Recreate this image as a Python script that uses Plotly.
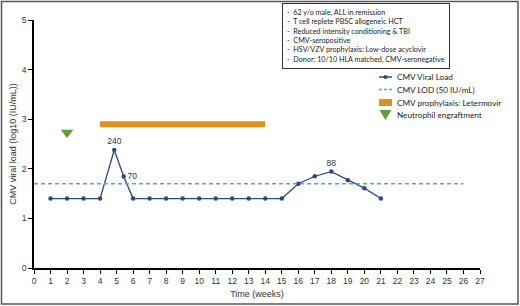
import plotly.graph_objects as go

# Data
weeks = [1, 2, 3, 4, 4.86, 5.43, 6, 7, 8, 9, 10, 11, 12, 13, 14, 15, 16, 17, 18, 19, 20, 21]
viral_load = [1.4, 1.4, 1.4, 1.4, 2.38, 1.845, 1.4, 1.4, 1.4, 1.4, 1.4, 1.4, 1.4, 1.4, 1.4, 1.4,
              1.70, 1.85, 1.944, 1.77, 1.61, 1.4]
point_labels = ["", "", "", "", "240", "70", "", "", "", "", "", "", "", "", "", "", "", "", "88", "", "", ""]
label_pos = ["top center"] * len(weeks)
label_pos[5] = "middle right"

lod_x = [0, 26]
lod_value = 1.699  # log10(50)

letermovir_start = 4
letermovir_end = 14
letermovir_level = 2.9

engraft_week = [2]
engraft_level = [2.73]

x_ticks = list(range(0, 28))
y_ticks = [0, 1, 2, 3, 4, 5]

notes = [
    "-  62 y/o male, ALL in remission",
    "-  T cell replete PBSC allogeneic HCT",
    "-  Reduced intensity conditioning & TBI",
    "-  CMV-seropositive",
    "-  HSV/VZV prophylaxis: Low-dose acyclovir",
    "-  Donor: 10/10 HLA matched, CMV-seronegative",
]
legend_labels = ["CMV Viral Load", "CMV LOD (50 IU/mL)", "CMV prophylaxis: Letermovir", "Neutrophil engraftment"]

navy = "#2b4a7e"
lightblue = "#5aa0e0"
orange = "#e0901c"
green = "#5f9e3a"

L, R, T, B = 34, 40, 20, 38
W, H = 520, 306
pw, ph = W - L - R, H - T - B


def xp(px):
    return (px - L) / pw


def yp(py):
    return (H - B - py) / ph


fig = go.Figure()

fig.add_trace(go.Scatter(
    x=weeks, y=viral_load, mode="lines+markers+text", name=legend_labels[0],
    line=dict(color=navy, width=1.3), marker=dict(color=navy, size=4.5),
    text=point_labels, textposition=label_pos,
    textfont=dict(family="Liberation Sans, Arial", size=8.5, color="#333"),
))
fig.add_trace(go.Scatter(
    x=lod_x, y=[lod_value] * len(lod_x), mode="lines", name=legend_labels[1],
    line=dict(color=lightblue, width=1.3, dash="4px,3px"),
))
fig.add_trace(go.Bar(
    y=[letermovir_level], x=[letermovir_end - letermovir_start], base=[letermovir_start],
    orientation="h", width=0.12, name=legend_labels[2],
    marker=dict(color=orange, line=dict(width=0)),
))
fig.add_trace(go.Scatter(
    x=engraft_week, y=engraft_level, mode="markers", name=legend_labels[3],
    marker=dict(symbol="triangle-down", size=11, color=green),
))

# notes box
fig.add_annotation(
    xref="paper", yref="paper",
    x=xp(282), y=yp(3), xanchor="left", yanchor="top",
    text="<br>".join(notes), showarrow=False, align="left",
    font=dict(family="Lato, Noto Sans", size=7.2, color="#222"),
    bordercolor="#333", borderwidth=1, borderpad=4, bgcolor="white",
)

# manual legend (compact rows)
rows = [77, 89.5, 102.5, 115]
sx0, sx1 = 379, 392
sxc = (sx0 + sx1) / 2
fig.add_shape(type="line", xref="paper", yref="paper", x0=xp(sx0), x1=xp(sx1), y0=yp(rows[0]), y1=yp(rows[0]),
              line=dict(color=navy, width=1.5))
fig.add_shape(type="circle", xref="paper", yref="paper", x0=xp(sxc - 2), x1=xp(sxc + 2),
              y0=yp(rows[0] + 2), y1=yp(rows[0] - 2), fillcolor=navy, line=dict(width=0))
fig.add_shape(type="line", xref="paper", yref="paper", x0=xp(sx0), x1=xp(sx1), y0=yp(rows[1]), y1=yp(rows[1]),
              line=dict(color=lightblue, width=1.3, dash="3px,2px"))
fig.add_shape(type="rect", xref="paper", yref="paper", x0=xp(sx0), x1=xp(sx1), y0=yp(rows[2] + 3.5),
              y1=yp(rows[2] - 3.5), fillcolor=orange, line=dict(width=0))
tri = "M {:.4f} {:.4f} L {:.4f} {:.4f} L {:.4f} {:.4f} Z".format(
    xp(sxc - 6), yp(rows[3] - 5), xp(sxc + 6), yp(rows[3] - 5), xp(sxc), yp(rows[3] + 5))
fig.add_shape(type="path", xref="paper", yref="paper", path=tri, fillcolor=green, line=dict(width=0))
for r, lab in zip(rows, legend_labels):
    fig.add_annotation(xref="paper", yref="paper", x=xp(395), y=yp(r), xanchor="left", yanchor="middle",
                       text=lab, showarrow=False,
                       font=dict(family="Lato, Noto Sans", size=8.2, color="#222"))

# outer frame
fig.add_shape(
    type="rect", xref="paper", yref="paper",
    x0=xp(1.5), x1=xp(518), y0=yp(304), y1=yp(1.5),
    line=dict(color="#555", width=1.5), fillcolor="rgba(0,0,0,0)",
)

axis_font = dict(family="Liberation Sans, Arial", size=8.5, color="#333")
fig.update_layout(
    width=W, height=H,
    margin=dict(l=L, r=R, t=T, b=B, autoexpand=False),
    paper_bgcolor="white", plot_bgcolor="white",
    showlegend=False,
    xaxis=dict(
        range=[0, 27], tickvals=x_ticks, ticks="outside", ticklen=4, tickwidth=1,
        tickcolor="#000", showline=True, linecolor="#000", linewidth=1.5,
        showgrid=False, zeroline=False, tickfont=axis_font, automargin=False,
        title=dict(text="Time (weeks)", font=dict(family="Liberation Sans Narrow, Liberation Sans", size=9, color="#333"), standoff=6),
    ),
    yaxis=dict(
        range=[0, 5], tickvals=y_ticks, ticks="outside", ticklen=4, tickwidth=1,
        tickcolor="#000", showline=True, linecolor="#000", linewidth=1.5,
        showgrid=False, zeroline=False, tickfont=axis_font, automargin=False,
        title=dict(text="CMV viral load (log10 (IU/mL))", font=dict(family="Liberation Sans Narrow, Liberation Sans", size=9, color="#333"), standoff=4),
    ),
)

fig.write_html("out.html", config={"displayModeBar": False},
               post_script="document.body.style.margin='0';")
